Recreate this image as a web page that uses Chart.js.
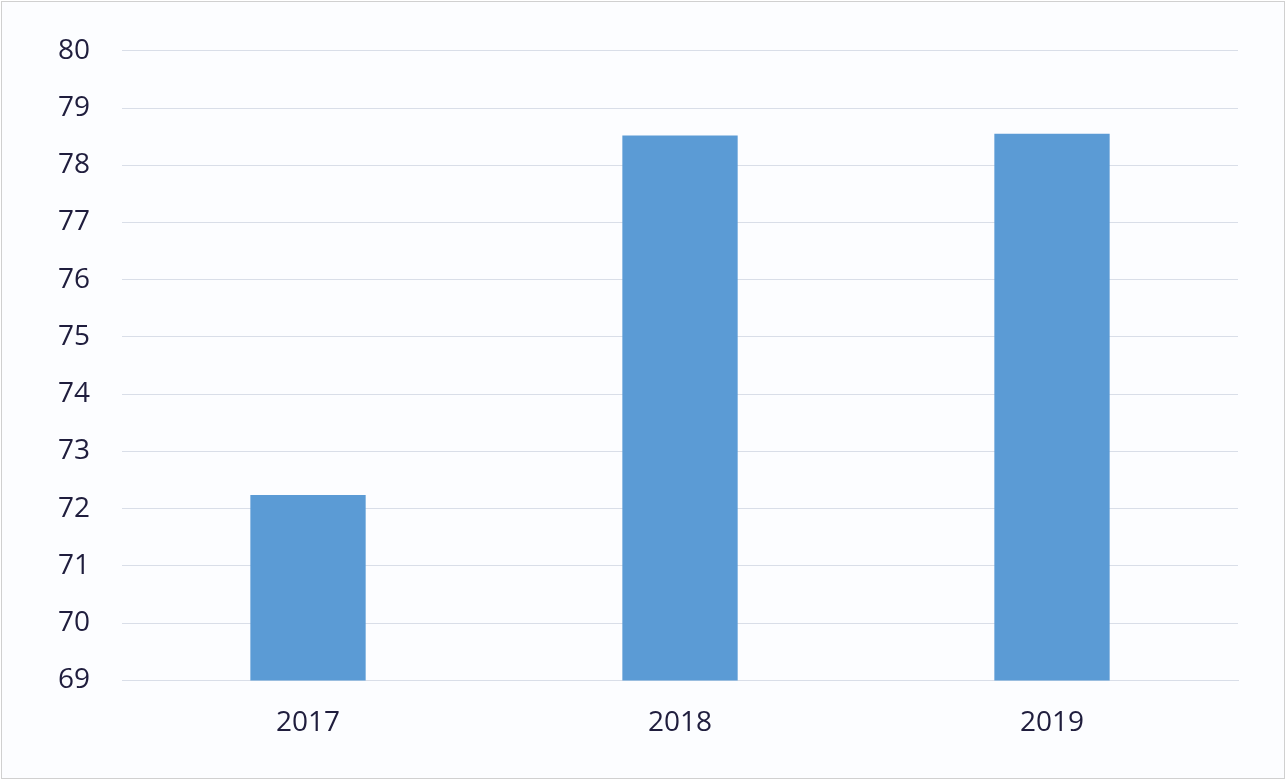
<!DOCTYPE html>
<html>
<body style="margin:0;background:#fff;">
    <div style="position:absolute;left:1px;top:1px;width:1282px;height:776px;border:1px solid #d0d0d0;background:#fcfdff;">
        <canvas id="myChart"></canvas>
    </div>
    <script src="https://cdn.jsdelivr.net/npm/chart.js"></script>
    <script>
        const years = ['2017', '2018', '2019'];
        const values = [72.24, 78.52, 78.55];
        const yTicks = [69, 70, 71, 72, 73, 74, 75, 76, 77, 78, 79, 80];

        const config = {
            type: 'bar',
            data: {
                labels: years,
                datasets: [{
                    data: values,
                    backgroundColor: '#5b9bd5',
                    categoryPercentage: 1,
                    barPercentage: 0.31
                }]
            },
            options: {
                responsive: true,
                maintainAspectRatio: false,
                animation: false,
                layout: { padding: { top: 31, right: 46, bottom: 20, left: 24 } },
                plugins: { legend: { display: false }, tooltip: { enabled: false } },
                scales: {
                    x: {
                        grid: { display: false },
                        border: { color: '#d9dee8' },
                        ticks: { color: '#1f1d3d', font: { family: 'Open Sans', size: 28 }, padding: 18 }
                    },
                    y: {
                        min: yTicks[0],
                        max: yTicks[yTicks.length - 1],
                        afterBuildTicks: axis => { axis.ticks = yTicks.map(v => ({ value: v })); },
                        grid: { color: '#d9dee8', drawTicks: false },
                        border: { display: false },
                        ticks: { color: '#1f1d3d', font: { family: 'Open Sans', size: 28 }, padding: 32 }
                    }
                }
            }
        };
        const myChart = new Chart(document.getElementById('myChart'), config);
    </script>
</body>
</html>
